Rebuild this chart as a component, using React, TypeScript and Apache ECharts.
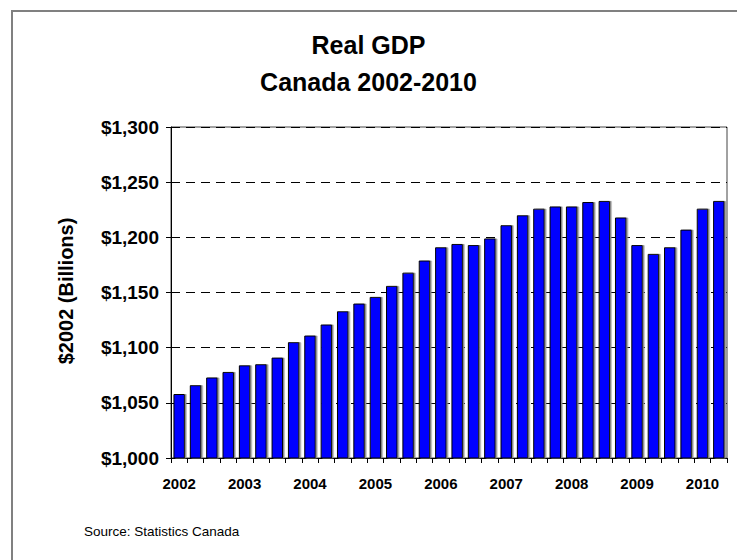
import React, { useEffect, useRef } from "react";
import * as echarts from "echarts";

const quarters: string[] = [
  "2002Q1", "2002Q2", "2002Q3", "2002Q4",
  "2003Q1", "2003Q2", "2003Q3", "2003Q4",
  "2004Q1", "2004Q2", "2004Q3", "2004Q4",
  "2005Q1", "2005Q2", "2005Q3", "2005Q4",
  "2006Q1", "2006Q2", "2006Q3", "2006Q4",
  "2007Q1", "2007Q2", "2007Q3", "2007Q4",
  "2008Q1", "2008Q2", "2008Q3", "2008Q4",
  "2009Q1", "2009Q2", "2009Q3", "2009Q4",
  "2010Q1", "2010Q2",
];

const gdpValues: number[] = [
  1058, 1066, 1073, 1078,
  1084, 1085, 1091, 1105,
  1111, 1121, 1133, 1140,
  1146, 1156, 1168, 1179,
  1191, 1194, 1193, 1199,
  1211, 1220, 1226, 1228,
  1228, 1232, 1233, 1218,
  1193, 1185, 1191, 1207,
  1226, 1233,
];

const titleLines: string[] = ["Real GDP", "Canada 2002-2010"];
const yAxisName = "$2002 (Billions)";
const sourceText = "Source: Statistics Canada";

const FONT = "Arial, 'Liberation Sans', Helvetica, sans-serif";

export default function App() {
  const ref = useRef<HTMLDivElement>(null);

  useEffect(() => {
    if (!ref.current) return;
    const chart = echarts.init(ref.current, undefined, { renderer: "svg" });
    chart.setOption({
      animation: false,
      backgroundColor: "#ffffff",
      textStyle: { fontFamily: FONT },
      title: {
        text: titleLines.join("\n"),
        left: "center",
        top: 21,
        textStyle: {
          fontFamily: FONT,
          fontSize: 25,
          fontWeight: "bold",
          color: "#000",
          lineHeight: 37,
        },
      },
      grid: {
        left: 171,
        right: 10,
        top: 127,
        bottom: 102,
        show: true,
        borderColor: "#444",
        borderWidth: 1,
        backgroundColor: "transparent",
      },
      xAxis: {
        type: "category",
        data: quarters,
        boundaryGap: true,
        axisLine: { show: true, lineStyle: { color: "#000", width: 1 } },
        axisTick: {
          show: true,
          interval: 0,
          length: 5,
          lineStyle: { color: "#000" },
        },
        axisLabel: {
          interval: 3,
          formatter: (v: string) => v.slice(0, 4),
          fontFamily: FONT,
          fontSize: 15,
          fontWeight: "bold",
          color: "#000",
          margin: 18,
        },
        splitLine: { show: false },
      },
      yAxis: {
        type: "value",
        min: 1000,
        max: 1300,
        interval: 50,
        axisLine: { show: true, lineStyle: { color: "#000", width: 1 } },
        axisTick: { show: true, length: 5, lineStyle: { color: "#000" } },
        axisLabel: {
          formatter: (v: number) => "$" + v.toLocaleString("en-US"),
          fontFamily: FONT,
          fontSize: 19,
          fontWeight: "bold",
          color: "#000",
          margin: 12,
        },
        splitLine: {
          show: true,
          lineStyle: { color: "#000", type: [9, 6], width: 1 },
        },
      },
      series: [
        {
          type: "bar",
          data: gdpValues,
          barCategoryGap: "30%",
          itemStyle: {
            color: "#0000FF",
            borderColor: "#000",
            borderWidth: 1,
            shadowColor: "#888",
            shadowOffsetX: 1.5,
            shadowOffsetY: 0,
            shadowBlur: 0,
          },
        },
      ],
      graphic: [
        {
          type: "rect",
          shape: { x: 12, y: 11, width: 800, height: 700 },
          style: { fill: "transparent", stroke: "#808080", lineWidth: 2 },
          silent: true,
        },
        {
          type: "text",
          x: 66,
          y: 291,
          rotation: Math.PI / 2,
          style: {
            text: yAxisName,
            font: `bold 20px ${FONT}`,
            fill: "#000",
            textAlign: "center",
            textVerticalAlign: "middle",
          },
        },
        {
          type: "text",
          x: 84,
          y: 531,
          style: {
            text: sourceText,
            font: `13.5px ${FONT}`,
            fill: "#000",
            textAlign: "left",
            textVerticalAlign: "middle",
          },
        },
      ],
    });
    return () => chart.dispose();
  }, []);

  return (
    <div
      ref={ref}
      style={{ position: "absolute", left: 0, top: 0, width: 737, height: 560 }}
    />
  );
}
